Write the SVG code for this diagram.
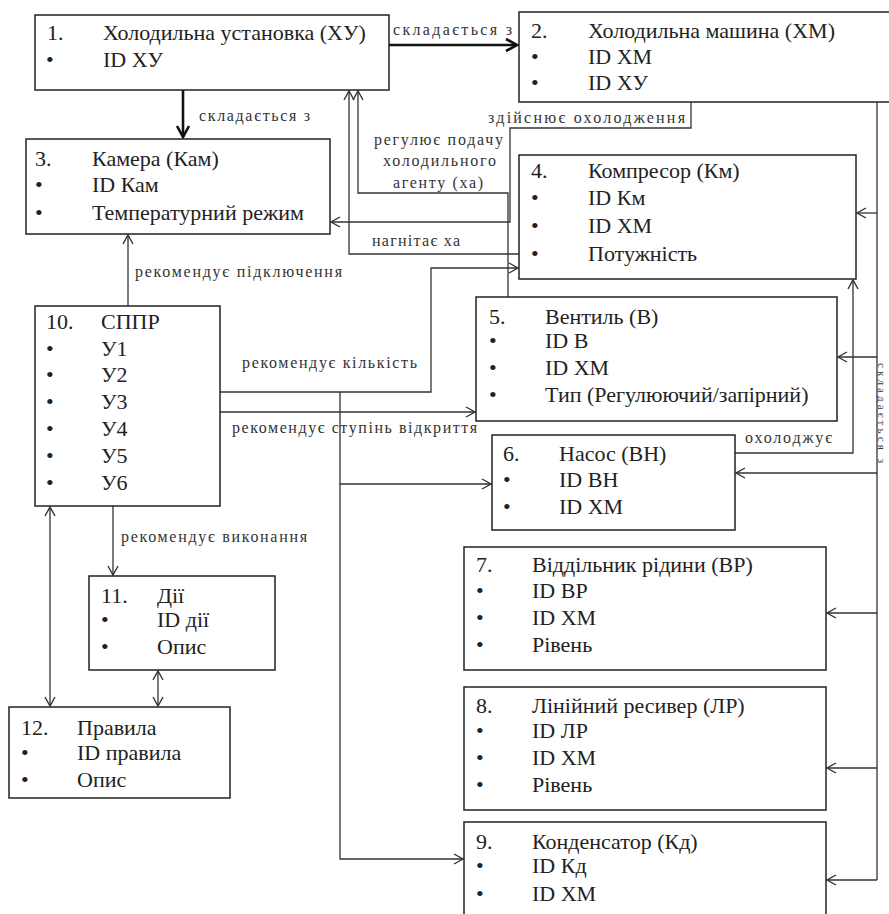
<svg xmlns="http://www.w3.org/2000/svg" width="889" height="914" viewBox="0 0 889 914">
<style>
.box{fill:#fff;stroke:#222;stroke-width:1.5}
.t{font-family:"Liberation Serif","DejaVu Serif",serif;font-size:22px;fill:#222}
.l{font-family:"Liberation Serif","DejaVu Serif",serif;font-size:16px;fill:#333}
.c{fill:none;stroke:#333;stroke-width:1.3}
.ck{fill:none;stroke:#111;stroke-width:2.6}
</style>
<defs>
<marker id="a" markerUnits="userSpaceOnUse" markerWidth="14" markerHeight="14" refX="10" refY="6" orient="auto-start-reverse" viewBox="0 0 14 12">
<path d="M1,1 L10,6 L1,11" fill="none" stroke="#333" stroke-width="1.4"/>
</marker>
<marker id="ak" markerUnits="userSpaceOnUse" markerWidth="16" markerHeight="16" refX="12" refY="7" orient="auto" viewBox="0 0 16 14">
<path d="M1,1 L12,7 L1,13" fill="none" stroke="#111" stroke-width="2.6"/>
</marker>
</defs>
<rect width="889" height="914" fill="#fff"/>

<g id="connectors">
<path class="ck" d="M389,45 H517" marker-end="url(#ak)"/>
<path class="ck" d="M183,90 V137" marker-end="url(#ak)"/>
<path class="c" d="M691,102 V128 H510 V222 H331" marker-end="url(#a)"/>
<path class="c" d="M508,297 V193 H358 V91" marker-end="url(#a)"/>
<path class="c" d="M519,254 H349 V91" marker-end="url(#a)"/>
<path class="c" d="M220,392 H431 V268 H518" marker-end="url(#a)"/>
<path class="c" d="M340,392 V484 H491" marker-end="url(#a)"/>
<path class="c" d="M340,484 V859 H463" marker-end="url(#a)"/>
<path class="c" d="M220,412 H475" marker-end="url(#a)"/>
<path class="c" d="M128,306 V235" marker-end="url(#a)"/>
<path class="c" d="M113,506 V575" marker-end="url(#a)"/>
<path class="c" d="M50,507 V706" marker-start="url(#a)" marker-end="url(#a)"/>
<path class="c" d="M158,671 V706" marker-start="url(#a)" marker-end="url(#a)"/>
<path class="c" d="M735,453 H853 V280" marker-end="url(#a)"/>
<path class="c" d="M877,102 V880"/>
<path class="c" d="M877,213 H857" marker-end="url(#a)"/>
<path class="c" d="M877,357 H838" marker-end="url(#a)"/>
<path class="c" d="M877,473 H736" marker-end="url(#a)"/>
<path class="c" d="M877,613 H827" marker-end="url(#a)"/>
<path class="c" d="M877,768 H827" marker-end="url(#a)"/>
<path class="c" d="M877,880 H827" marker-end="url(#a)"/>
<text class="l" x="393" y="35" textLength="119" lengthAdjust="spacing">складається з</text>
<text class="l" x="199" y="121" textLength="111" lengthAdjust="spacing">складається з</text>
<text class="l" x="488" y="123" textLength="197" lengthAdjust="spacing">здійснює охолодження</text>
<text class="l" x="374" y="145" textLength="129" lengthAdjust="spacing">регулює подачу</text>
<text class="l" x="383" y="166" textLength="113" lengthAdjust="spacing">холодильного</text>
<text class="l" x="393" y="188" textLength="90" lengthAdjust="spacing">агенту (ха)</text>
<text class="l" x="372" y="246" textLength="88" lengthAdjust="spacing">нагнітає ха</text>
<text class="l" x="135" y="277" textLength="207" lengthAdjust="spacing">рекомендує підключення</text>
<text class="l" x="242" y="368" textLength="175" lengthAdjust="spacing">рекомендує кількість</text>
<text class="l" x="232" y="433" textLength="245" lengthAdjust="spacing">рекомендує ступінь відкриття</text>
<text class="l" x="745" y="443" textLength="87" lengthAdjust="spacing">охолоджує</text>
<text class="l" x="121" y="542" textLength="186" lengthAdjust="spacing">рекомендує виконання</text>
<text class="l" style="font-size:11px" transform="translate(878,363) rotate(90)" x="0" y="0" textLength="100" lengthAdjust="spacing">складається з</text>
</g>

<g id="n1">
<rect class="box" x="35" y="15" width="354" height="75"/>
<text class="t" x="47" y="40">1.</text><text class="t" x="103" y="40">Холодильна установка (ХУ)</text>
<text class="t" x="46" y="67">•</text><text class="t" x="103" y="67">ID ХУ</text>
</g>
<g id="n2">
<rect class="box" x="519" y="12" width="380" height="90"/>
<text class="t" x="531" y="38">2.</text><text class="t" x="588" y="38">Холодильна машина (ХМ)</text>
<text class="t" x="531" y="64">•</text><text class="t" x="588" y="64">ID ХМ</text>
<text class="t" x="531" y="90">•</text><text class="t" x="588" y="90">ID ХУ</text>
</g>
<g id="n3">
<rect class="box" x="26" y="139" width="304" height="95"/>
<text class="t" x="35" y="166">3.</text><text class="t" x="92" y="166">Камера (Кам)</text>
<text class="t" x="35" y="192">•</text><text class="t" x="92" y="192">ID Кам</text>
<text class="t" x="35" y="220">•</text><text class="t" x="92" y="220">Температурний режим</text>
</g>
<g id="n4">
<rect class="box" x="519" y="155" width="337" height="124"/>
<text class="t" x="531" y="178">4.</text><text class="t" x="588" y="178">Компресор (Км)</text>
<text class="t" x="531" y="205">•</text><text class="t" x="588" y="205">ID Км</text>
<text class="t" x="531" y="233">•</text><text class="t" x="588" y="233">ID ХМ</text>
<text class="t" x="531" y="261">•</text><text class="t" x="588" y="261">Потужність</text>
</g>
<g id="n5">
<rect class="box" x="476" y="297" width="361" height="124"/>
<text class="t" x="489" y="324">5.</text><text class="t" x="545" y="324">Вентиль (В)</text>
<text class="t" x="489" y="348">•</text><text class="t" x="545" y="348">ID В</text>
<text class="t" x="489" y="375">•</text><text class="t" x="545" y="375">ID ХМ</text>
<text class="t" x="489" y="402">•</text><text class="t" x="545" y="402">Тип (Регулюючий/запірний)</text>
</g>
<g id="n6">
<rect class="box" x="492" y="435" width="243" height="95"/>
<text class="t" x="503" y="461">6.</text><text class="t" x="559" y="461">Насос (ВН)</text>
<text class="t" x="503" y="487">•</text><text class="t" x="559" y="487">ID ВН</text>
<text class="t" x="503" y="514">•</text><text class="t" x="559" y="514">ID ХМ</text>
</g>
<g id="n7">
<rect class="box" x="464" y="547" width="362" height="123"/>
<text class="t" x="476" y="572">7.</text><text class="t" x="532" y="572">Віддільник рідини (ВР)</text>
<text class="t" x="476" y="598">•</text><text class="t" x="532" y="598">ID ВР</text>
<text class="t" x="476" y="625">•</text><text class="t" x="532" y="625">ID ХМ</text>
<text class="t" x="476" y="652">•</text><text class="t" x="532" y="652">Рівень</text>
</g>
<g id="n8">
<rect class="box" x="464" y="687" width="362" height="123"/>
<text class="t" x="476" y="713">8.</text><text class="t" x="532" y="713">Лінійний ресивер (ЛР)</text>
<text class="t" x="476" y="738">•</text><text class="t" x="532" y="738">ID ЛР</text>
<text class="t" x="476" y="765">•</text><text class="t" x="532" y="765">ID ХМ</text>
<text class="t" x="476" y="792">•</text><text class="t" x="532" y="792">Рівень</text>
</g>
<g id="n9">
<rect class="box" x="464" y="822" width="362" height="120"/>
<text class="t" x="476" y="849">9.</text><text class="t" x="532" y="849">Конденсатор (Кд)</text>
<text class="t" x="476" y="873">•</text><text class="t" x="532" y="873">ID Кд</text>
<text class="t" x="476" y="901">•</text><text class="t" x="532" y="901">ID ХМ</text>
</g>
<g id="n10">
<rect class="box" x="35" y="306" width="185" height="200"/>
<text class="t" x="46" y="329">10.</text><text class="t" x="101" y="329">СППР</text>
<text class="t" x="46" y="356">•</text><text class="t" x="101" y="356">У1</text>
<text class="t" x="46" y="382">•</text><text class="t" x="101" y="382">У2</text>
<text class="t" x="46" y="409">•</text><text class="t" x="101" y="409">У3</text>
<text class="t" x="46" y="436">•</text><text class="t" x="101" y="436">У4</text>
<text class="t" x="46" y="463">•</text><text class="t" x="101" y="463">У5</text>
<text class="t" x="46" y="490">•</text><text class="t" x="101" y="490">У6</text>
</g>
<g id="n11">
<rect class="box" x="89" y="576" width="186" height="94"/>
<text class="t" x="101" y="603">11.</text><text class="t" x="157" y="603">Дії</text>
<text class="t" x="101" y="627">•</text><text class="t" x="157" y="627">ID дії</text>
<text class="t" x="101" y="654">•</text><text class="t" x="157" y="654">Опис</text>
</g>
<g id="n12">
<rect class="box" x="9" y="707" width="221" height="91"/>
<text class="t" x="21" y="735">12.</text><text class="t" x="77" y="735">Правила</text>
<text class="t" x="21" y="760">•</text><text class="t" x="77" y="760">ID правила</text>
<text class="t" x="21" y="787">•</text><text class="t" x="77" y="787">Опис</text>
</g>
</svg>
